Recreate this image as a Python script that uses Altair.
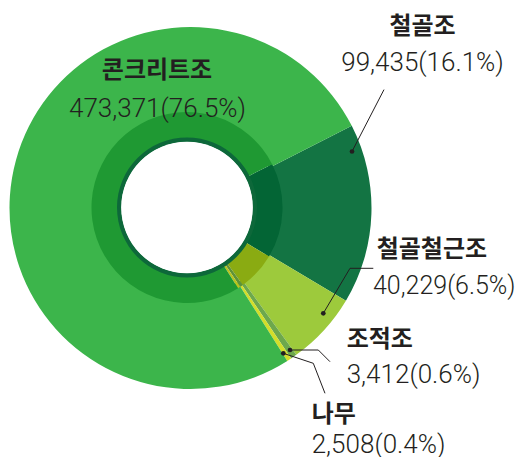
import math
import altair as alt
import pandas as pd

# ---- data ----
categories = ["철골조", "철골철근조", "조적조", "나무", "콘크리트조"]
values = [99435, 40229, 3412, 2508, 473371]
order_idx = [1, 2, 3, 4, 5]
outer_colors = ["#137443", "#9dca3c", "#6da84c", "#d2de2a", "#3cb54b"]
inner_colors = ["#036535", "#8aab12", "#5e9236", "#b9c41c", "#1f9933"]

total = sum(values)
pcts = [v / total * 100 for v in values]
value_labels = [f"{v:,}({p:.1f}%)" for v, p in zip(values, pcts)]

df = pd.DataFrame({"cat": categories, "value": values, "idx": order_idx})

START = math.radians(63)
theta_scale = alt.Scale(range=[START, START + 2 * math.pi])

W, H = 513, 449
OUT_C = (182.5, 200)
IN_C = (179, 199.5)

base = alt.Chart(df)

outer = base.mark_arc(innerRadius=88, outerRadius=181, stroke=None).encode(
    theta=alt.Theta("value:Q", stack=True, scale=theta_scale),
    order=alt.Order("idx:Q"),
    color=alt.Color("cat:N", scale=alt.Scale(domain=categories, range=outer_colors), legend=None),
    x=alt.value(OUT_C[0]),
    y=alt.value(OUT_C[1]),
)

inner = base.mark_arc(innerRadius=68, outerRadius=95.5, stroke=None).encode(
    theta=alt.Theta("value:Q", stack=True, scale=theta_scale),
    order=alt.Order("idx:Q"),
    color=alt.Color("cat:N", scale=alt.Scale(domain=categories, range=inner_colors), legend=None),
    x=alt.value(IN_C[0]),
    y=alt.value(IN_C[1]),
)

one = alt.Chart(pd.DataFrame({"a": [0]}))
ring = one.mark_arc(innerRadius=65.5, outerRadius=70, theta=0, theta2=2 * math.pi,
                    color="#0d683a").encode(x=alt.value(IN_C[0]), y=alt.value(IN_C[1]))
hole = one.mark_arc(innerRadius=0, outerRadius=65.8, theta=0, theta2=2 * math.pi,
                    color="#ffffff").encode(x=alt.value(IN_C[0]), y=alt.value(IN_C[1]))

# ---- leader lines (annotation geometry) ----
segments = [
    (344, 143.5, 376, 81.6),
    (315.3, 305.3, 342, 260.3), (342, 260.3, 365.3, 260.3),
    (282, 342, 310.3, 342), (310.3, 342, 322, 353.7),
    (275.3, 345.3, 305.3, 355.3), (305.3, 355.3, 317, 385.3),
]
dots = [(344, 143.5), (315.3, 305.3), (282, 342), (275.3, 345.3)]

annot = []
for x1, y1, x2, y2 in segments:
    annot.append(one.mark_rule(color="#231f20", strokeWidth=1).encode(
        x=alt.value(x1), y=alt.value(y1), x2=alt.value(x2), y2=alt.value(y2)))
for dx, dy in dots:
    annot.append(one.mark_circle(color="#231f20", size=22, opacity=1).encode(
        x=alt.value(dx), y=alt.value(dy)))

# ---- text labels ----
KFONT = "Noto Sans CJK KR"
NFONT = "Roboto"
# (category index, x name, name baseline y, x value, value baseline y, value font size, align)
label_pos = [
    (4, 149, 70, 149.5, 109, 26, "center"),
    (0, 414.5, 26, 414.5, 63, 26, "center"),
    (1, 368.7, 249.3, 365, 285.5, 25, "left"),
    (2, 338.7, 338.5, 338.7, 375, 26, "left"),
    (3, 303.7, 413.5, 303.7, 444.5, 26, "left"),
]
for i, nx, ny, vx, vy, vs, al in label_pos:
    annot.append(one.mark_text(text=categories[i], font=KFONT, fontSize=24, fontWeight="bold",
                               color="#231f20", align=al, baseline="alphabetic").encode(
        x=alt.value(nx), y=alt.value(ny)))
    annot.append(one.mark_text(text=value_labels[i], font=NFONT, fontSize=vs, fontWeight=300,
                               color="#231f20", align=al, baseline="alphabetic").encode(
        x=alt.value(vx), y=alt.value(vy)))

chart = alt.layer(outer, inner, ring, hole, *annot).resolve_scale(
    color="independent"
).properties(
    width=W, height=H, padding=0, autosize=alt.AutoSizeParams(type="none"),
    background="#ffffff",
).configure_view(stroke=None)

chart.save("out.html", embed_options={"renderer": "svg", "actions": False})
